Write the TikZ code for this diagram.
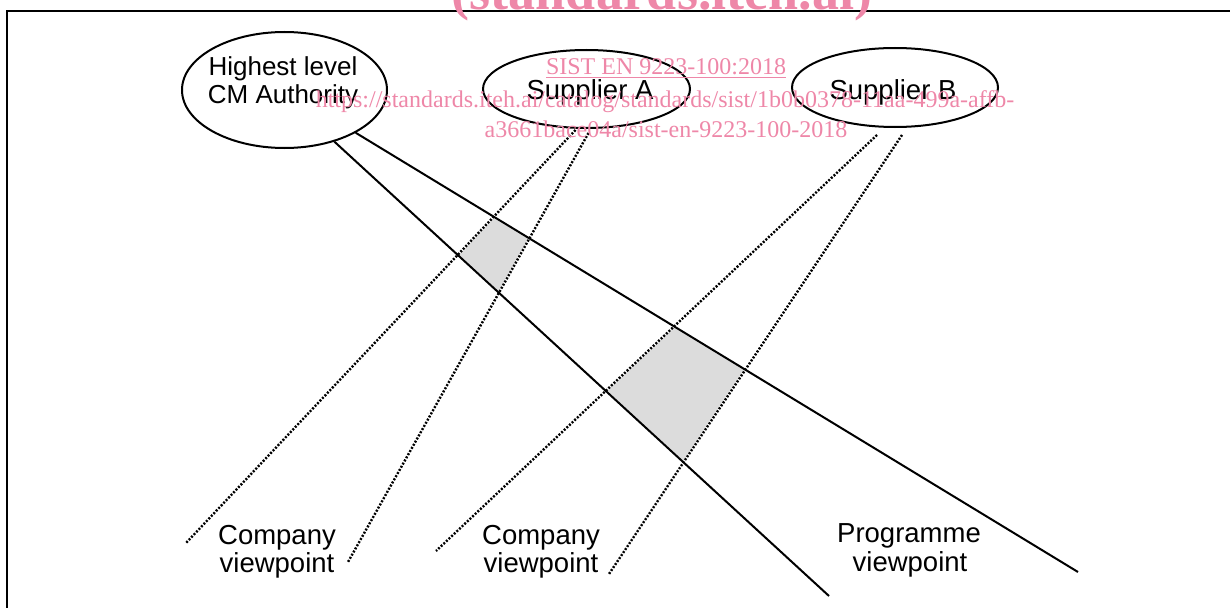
\documentclass[tikz,border=0pt]{standalone}
\usepackage{fontspec}
\setmainfont{Liberation Sans}
\newfontfamily\wmfont{Liberation Serif}
\usetikzlibrary{shapes.geometric,intersections,backgrounds}
\definecolor{wmpink}{RGB}{238,135,168}
\definecolor{quadgray}{RGB}{220,220,220}
\begin{document}
\begin{tikzpicture}[x=1pt,y=-1pt,
  frameline/.style={line width=2pt},
  oval/.style={ellipse,draw,line width=2pt,inner sep=0pt},
  lbl/.style={font=\fontsize{27.5}{31}\selectfont,anchor=base,inner sep=0pt},
  lblsmall/.style={font=\fontsize{26}{30}\selectfont,anchor=base,inner sep=0pt},
  solidline/.style={line width=2pt},
  dotline/.style={line width=2.4pt,dash pattern=on 2pt off 1.6pt},
  quad/.style={fill=quadgray,draw=white,line width=2pt,line join=round},
  wm/.style={text=wmpink,font=\wmfont\fontsize{24}{28}\selectfont,anchor=base,inner sep=0pt},
  wmbig/.style={text=wmpink,font=\wmfont\bfseries\fontsize{54}{60}\selectfont,anchor=base,inner sep=0pt},
]
\useasboundingbox (0,0) rectangle (1230,607);
\clip (0,0) rectangle (1230,607);

% frame
\draw[frameline] (7,612) -- (7,11) -- (1235,11);

% ellipses
\node[oval,minimum width=205pt,minimum height=116pt] (hl) at (284.5,90) {};
\node[oval,minimum width=207pt,minimum height=78pt] (sa) at (586.5,89) {};
\node[oval,minimum width=206pt,minimum height=79pt] (sb) at (895,87.5) {};

% ellipse labels
\node[lblsmall] (hlt1) at (283,76) {Highest level};
\node[lblsmall] (hlt2) at (283,104) {CM Authority};
\node[lbl] (sat) at (590,100) {Supplier A};
\node[lbl] (sbt) at (893,100) {Supplier B};

% free ends
\coordinate (l1e) at (829,596);
\coordinate (l2e) at (1078,572);
\coordinate (d1e) at (186,543);
\coordinate (d2e) at (348,562);
\coordinate (d3e) at (436,551);
\coordinate (d4e) at (609,574);

% connectors
\draw[solidline,name path=L1] (hl.-46) -- (l1e);
\draw[solidline,name path=L2] (hl.-31) -- (l2e);
\draw[dotline,name path=D1] ([shift={(-11,1)}]sa.south) -- (d1e);
\draw[dotline,name path=D2] ([shift={(2,4)}]sa.south) -- (d2e);
\draw[dotline,name path=D3] ([shift={(-18,7)}]sb.south) -- (d3e);
\draw[dotline,name path=D4] ([shift={(7,7)}]sb.south) -- (d4e);

% overlap regions
\path[name intersections={of=L2 and D1,by=qa1}];
\path[name intersections={of=L2 and D2,by=qa2}];
\path[name intersections={of=L1 and D2,by=qa3}];
\path[name intersections={of=L1 and D1,by=qa4}];
\path[name intersections={of=L2 and D3,by=qb1}];
\path[name intersections={of=L2 and D4,by=qb2}];
\path[name intersections={of=L1 and D4,by=qb3}];
\path[name intersections={of=L1 and D3,by=qb4}];
\begin{scope}[on background layer]
  \filldraw[quad] (qa1) -- (qa2) -- (qa3) -- (qa4) -- cycle;
  \filldraw[quad] (qb1) -- (qb2) -- (qb3) -- (qb4) -- cycle;
\end{scope}

% viewpoint labels
\node[lbl] (cv1a) at (277,544) {Company};
\node[lbl] (cv1b) at (277,572) {viewpoint};
\node[lbl] (cv2a) at (541,544) {Company};
\node[lbl] (cv2b) at (541,572) {viewpoint};
\node[lbl] (pva) at (909,542) {Programme};
\node[lbl] (pvb) at (910,571) {viewpoint};

% watermark
\node[wmbig] (wmtitle) at (662,10) {(standards.iteh.ai)};
\node[wm] (wmsist) at (666,75) {\underline{SIST EN 9223-100:2018}};
\node[wm] (wmurl1) at (665,107) {https://standards.iteh.ai/catalog/standards/sist/1b0b0378-11aa-499a-affb-};
\node[wm] (wmurl2) at (666,137) {a3661bace04a/sist-en-9223-100-2018};
\end{tikzpicture}
\end{document}
